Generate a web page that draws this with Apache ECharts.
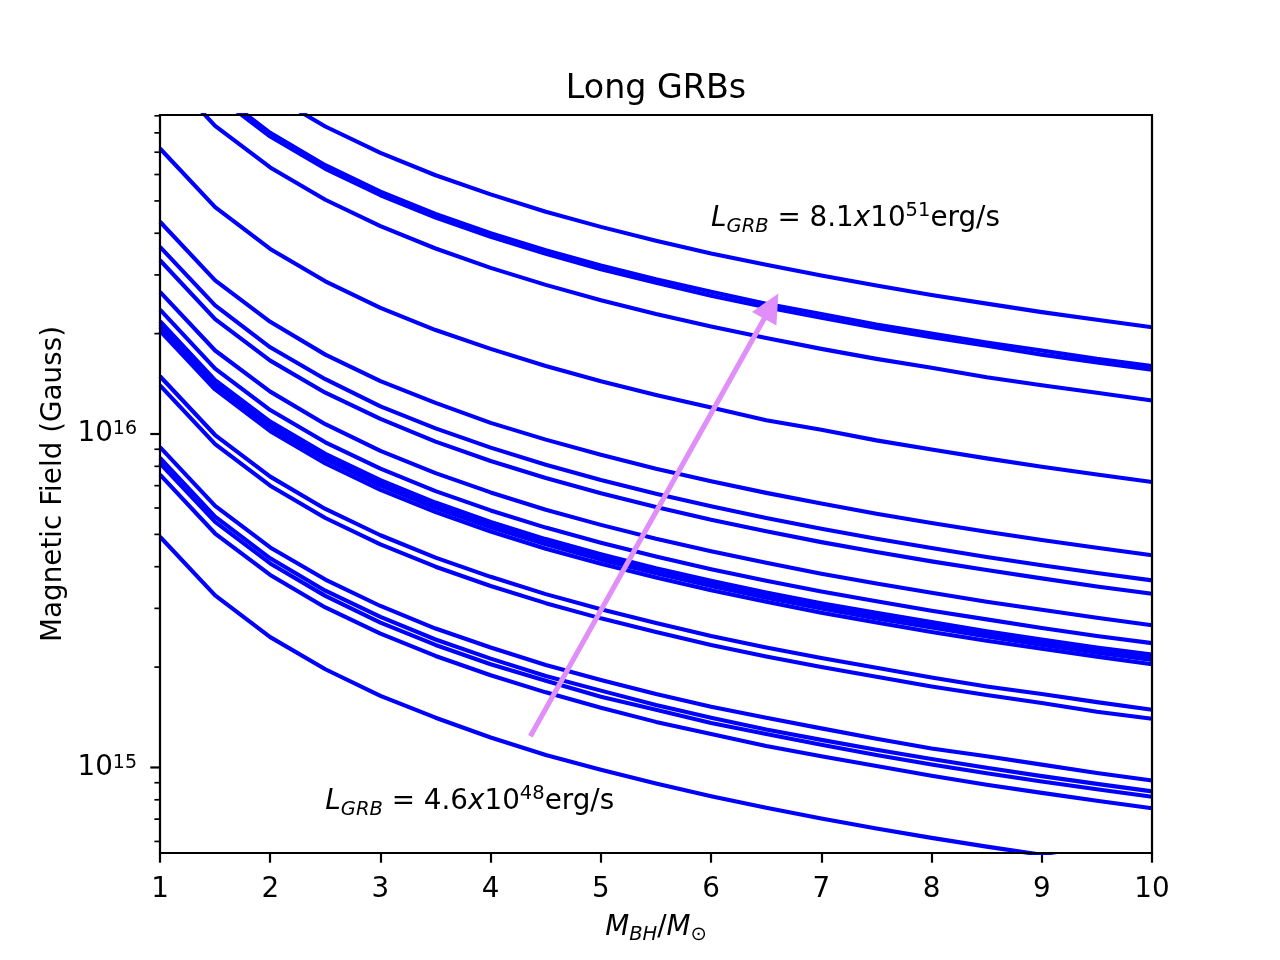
<!DOCTYPE html>
<html>
<head>
<meta charset="utf-8">
<title>Long GRBs</title>
<script src="https://cdn.jsdelivr.net/npm/echarts@6.0.0/dist/echarts.min.js"></script>
<style>
  html, body { margin: 0; padding: 0; background: #fff; }
  #chart { width: 1280px; height: 960px; }
</style>
</head>
<body>
<div id="chart"></div>
<script>
// black hole mass (solar masses)
var masses = [1, 1.5, 2, 2.5, 3, 3.5, 4, 4.5, 5, 5.5, 6, 6.5, 7, 7.5, 8, 8.5, 9, 9.5, 10];

// magnetic field in units of 1e15 G, one curve per GRB luminosity (top to bottom)
var line01 = [209, 139, 104.5, 83.6, 69.7, 59.7, 52.3, 46.4, 41.8, 38.0, 34.8, 32.2, 29.9, 27.9, 26.1, 24.6, 23.2, 22.0, 20.9];
var line02 = [160, 107, 80.0, 64.0, 53.3, 45.7, 40.0, 35.6, 32.0, 29.1, 26.7, 24.6, 22.9, 21.3, 20.0, 18.8, 17.8, 16.8, 16.0];
var line03 = [156, 104, 78.0, 62.4, 52.0, 44.6, 39.0, 34.7, 31.2, 28.4, 26.0, 24.0, 22.3, 20.8, 19.5, 18.4, 17.3, 16.4, 15.6];
var line04 = [126, 84.0, 63.0, 50.4, 42.0, 36.0, 31.5, 28.0, 25.2, 22.9, 21.0, 19.4, 18.0, 16.8, 15.8, 14.8, 14.0, 13.3, 12.6];
var line05 = [71.8, 47.9, 35.9, 28.7, 23.9, 20.5, 18.0, 16.0, 14.4, 13.1, 12.0, 11.0, 10.3, 9.57, 8.98, 8.45, 7.98, 7.56, 7.18];
var line06 = [43.3, 28.9, 21.7, 17.3, 14.4, 12.4, 10.8, 9.62, 8.66, 7.87, 7.22, 6.66, 6.19, 5.77, 5.41, 5.09, 4.81, 4.56, 4.33];
var line07 = [36.4, 24.3, 18.2, 14.6, 12.1, 10.4, 9.10, 8.09, 7.28, 6.62, 6.07, 5.60, 5.20, 4.85, 4.55, 4.28, 4.04, 3.83, 3.64];
var line08 = [33.2, 22.1, 16.6, 13.3, 11.1, 9.49, 8.30, 7.38, 6.64, 6.04, 5.53, 5.11, 4.74, 4.43, 4.15, 3.91, 3.69, 3.49, 3.32];
var line09 = [26.7, 17.8, 13.4, 10.7, 8.90, 7.63, 6.68, 5.93, 5.34, 4.85, 4.45, 4.11, 3.81, 3.56, 3.34, 3.14, 2.97, 2.81, 2.67];
var line10 = [23.6, 15.7, 11.8, 9.44, 7.87, 6.74, 5.90, 5.24, 4.72, 4.29, 3.93, 3.63, 3.37, 3.15, 2.95, 2.78, 2.62, 2.48, 2.36];
var line11 = [21.8, 14.5, 10.9, 8.72, 7.27, 6.23, 5.45, 4.84, 4.36, 3.96, 3.63, 3.35, 3.11, 2.91, 2.73, 2.56, 2.42, 2.29, 2.18];
var line12 = [21.4, 14.3, 10.7, 8.56, 7.13, 6.11, 5.35, 4.76, 4.28, 3.89, 3.57, 3.29, 3.06, 2.85, 2.68, 2.52, 2.38, 2.25, 2.14];
var line13 = [21.0, 14.0, 10.5, 8.40, 7.00, 6.00, 5.25, 4.67, 4.20, 3.82, 3.50, 3.23, 3.00, 2.80, 2.63, 2.47, 2.33, 2.21, 2.10];
var line14 = [20.4, 13.6, 10.2, 8.16, 6.80, 5.83, 5.10, 4.53, 4.08, 3.71, 3.40, 3.14, 2.91, 2.72, 2.55, 2.40, 2.27, 2.15, 2.04];
var line15 = [14.9, 9.93, 7.45, 5.96, 4.97, 4.26, 3.73, 3.31, 2.98, 2.71, 2.48, 2.29, 2.13, 1.99, 1.86, 1.75, 1.66, 1.57, 1.49];
var line16 = [14.0, 9.33, 7.00, 5.60, 4.67, 4.00, 3.50, 3.11, 2.80, 2.55, 2.33, 2.15, 2.00, 1.87, 1.75, 1.65, 1.56, 1.47, 1.40];
var line17 = [9.14, 6.09, 4.57, 3.66, 3.05, 2.61, 2.29, 2.03, 1.83, 1.66, 1.52, 1.41, 1.31, 1.22, 1.14, 1.08, 1.02, 0.962, 0.914];
var line18 = [8.48, 5.65, 4.24, 3.39, 2.83, 2.42, 2.12, 1.88, 1.70, 1.54, 1.41, 1.30, 1.21, 1.13, 1.06, 0.998, 0.942, 0.893, 0.848];
var line19 = [8.17, 5.45, 4.09, 3.27, 2.72, 2.33, 2.04, 1.82, 1.63, 1.49, 1.36, 1.26, 1.17, 1.09, 1.02, 0.961, 0.908, 0.860, 0.817];
var line20 = [7.55, 5.03, 3.78, 3.02, 2.52, 2.16, 1.89, 1.68, 1.51, 1.37, 1.26, 1.16, 1.08, 1.01, 0.944, 0.888, 0.839, 0.795, 0.755];
var line21 = [4.92, 3.28, 2.46, 1.97, 1.64, 1.41, 1.23, 1.09, 0.984, 0.895, 0.820, 0.757, 0.703, 0.656, 0.615, 0.579, 0.547, 0.518, 0.492];
var curves = [line01, line02, line03, line04, line05, line06, line07, line08, line09, line10,
              line11, line12, line13, line14, line15, line16, line17, line18, line19, line20, line21];
var unit = 1e15;

// y ticks (log axis, matplotlib style)
var yMajorTicks = [1e15, 1e16];
var yMinorTicks = [6e14, 7e14, 8e14, 9e14,
                   2e15, 3e15, 4e15, 5e15, 6e15, 7e15, 8e15, 9e15,
                   2e16, 3e16, 4e16, 5e16, 6e16, 7e16, 8e16, 9e16];

// annotations
var notes = [
    {x: 6.0, y: 4.2e16, mant: '8.1', exp: '51'},
    {x: 2.5, y: 7.5e14, mant: '4.6', exp: '48'}
];
var arrowFrom = [4.36, 1.24e15];
var arrowTo = [6.61, 2.64e16];

var FONT = 'DejaVu Sans';
var FS = 27.8;
var blue = '#0000ff';
var arrowColor = '#e08ff8';

var series = [];
for (var n = 0; n < curves.length; n++) {
    var pts = [];
    for (var i = 0; i < masses.length; i++) {
        pts.push([masses[i], curves[n][i] * unit]);
    }
    series.push({
        type: 'line',
        data: pts,
        symbol: 'none',
        showSymbol: false,
        silent: true,
        clip: true,
        z: 2,
        lineStyle: {color: blue, width: 4.1, join: 'round'},
        itemStyle: {color: blue}
    });
}

// y tick marks drawn outside the left edge
var tickData = [];
yMajorTicks.forEach(function (v) { tickData.push([1, v, 9.7, 2.2]); });
yMinorTicks.forEach(function (v) { tickData.push([1, v, 5.6, 1.7]); });
series.push({
    type: 'custom',
    data: tickData,
    clip: false,
    silent: true,
    z: 6,
    renderItem: function (params, api) {
        var p = api.coord([api.value(0), api.value(1)]);
        return {
            type: 'line',
            shape: {x1: p[0] - api.value(2), y1: p[1], x2: p[0], y2: p[1]},
            style: {stroke: '#000', lineWidth: api.value(3)}
        };
    }
});

// the arrow
series.push({
    type: 'custom',
    data: [[arrowFrom[0], arrowFrom[1], arrowTo[0], arrowTo[1]]],
    clip: false,
    silent: true,
    z: 4,
    renderItem: function (params, api) {
        var a = api.coord([api.value(0), api.value(1)]);
        var b = api.coord([api.value(2), api.value(3)]);
        var dx = b[0] - a[0], dy = b[1] - a[1];
        var len = Math.sqrt(dx * dx + dy * dy);
        var ux = dx / len, uy = dy / len, nx = -uy, ny = ux;
        var hw = 2.6, hl = 29, hh = 14;
        var bx = b[0] - ux * hl, by = b[1] - uy * hl;
        var poly = [
            [a[0] + nx * hw, a[1] + ny * hw],
            [bx + nx * hw, by + ny * hw],
            [bx + nx * hh, by + ny * hh],
            [b[0], b[1]],
            [bx - nx * hh, by - ny * hh],
            [bx - nx * hw, by - ny * hw],
            [a[0] - nx * hw, a[1] - ny * hw]
        ];
        return {type: 'polygon', shape: {points: poly}, style: {fill: arrowColor}};
    }
});

// the two luminosity labels
var noteRich = {
    n: {fontSize: FS, fontFamily: FONT, lineHeight: 48, fill: '#000'},
    i: {fontSize: FS, fontFamily: FONT, fontStyle: 'italic', lineHeight: 48, fill: '#000'},
    sb: {fontSize: 19.5, fontFamily: FONT, fontStyle: 'italic', padding: [0, 0, 6.5, 0], verticalAlign: 'bottom', fill: '#000'},
    sp: {fontSize: 19.5, fontFamily: FONT, padding: [6, 0, 0, 0], verticalAlign: 'top', fill: '#000'}
};
series.push({
    type: 'custom',
    data: notes.map(function (d, k) { return [d.x, d.y, k]; }),
    clip: false,
    silent: true,
    z: 5,
    renderItem: function (params, api) {
        var p = api.coord([api.value(0), api.value(1)]);
        var d = notes[api.value(2)];
        return {
            type: 'text',
            x: p[0],
            y: p[1] - 31,
            style: {
                text: '{i|L}{sb|GRB}{n| = ' + d.mant + '}{i|x}{n|10}{sp|' + d.exp + '}{n|erg/s}',
                rich: noteRich,
                fill: '#000',
                align: 'left',
                verticalAlign: 'top'
            }
        };
    }
});

// plot frame on top of the curves
series.push({
    type: 'custom',
    data: [[1, 1e16]],
    clip: false,
    silent: true,
    z: 7,
    renderItem: function (params, api) {
        var cs = params.coordSys;
        return {
            type: 'rect',
            shape: {x: cs.x, y: cs.y, width: cs.width, height: cs.height},
            style: {fill: 'none', stroke: '#000', lineWidth: 2.2}
        };
    }
});

var myChart = echarts.init(document.getElementById('chart'), null, {renderer: 'canvas'});
var option = {
    animation: false,
    backgroundColor: '#fff',
    grid: {left: 160, right: 128, top: 115, bottom: 107, containLabel: false, outerBoundsMode: 'none'},
    graphic: [{
        type: 'text',
        x: 656,
        y: 89,
        style: {text: 'Long GRBs', fontSize: 33.3, fontFamily: FONT, fill: '#000', align: 'center', verticalAlign: 'middle'}
    }],
    xAxis: {
        type: 'value',
        min: 1,
        max: 10,
        interval: 1,
        splitLine: {show: false},
        axisLine: {show: true, lineStyle: {color: '#000', width: 2.2}},
        axisTick: {show: true, inside: false, length: 9.7, lineStyle: {color: '#000', width: 2.2}},
        axisLabel: {margin: 23, fontSize: FS, fontFamily: FONT, color: '#000'},
        name: '{i|M}{sb|BH}{n|/}{i|M}{so|⊙}',
        nameLocation: 'middle',
        nameGap: 58,
        nameMoveOverlap: false,
        nameTextStyle: {
            rich: {
                n: {fontSize: FS, fontFamily: FONT, lineHeight: 34, color: '#000'},
                i: {fontSize: FS, fontFamily: FONT, fontStyle: 'italic', lineHeight: 34, color: '#000'},
                sb: {fontSize: 19.5, fontFamily: FONT, fontStyle: 'italic', lineHeight: 24, verticalAlign: 'bottom', color: '#000'},
                so: {fontSize: 19.5, fontFamily: FONT, lineHeight: 24, verticalAlign: 'bottom', color: '#000'}
            }
        }
    },
    yAxis: {
        type: 'log',
        logBase: 10,
        min: 5.54e14,
        max: 9.05e16,
        splitLine: {show: false},
        axisLine: {show: false},
        axisTick: {show: false},
        minorTick: {show: false},
        axisLabel: {
            margin: 23,
            interval: 0,
            hideOverlap: false,
            formatter: function (v) {
                var e = Math.log10(v), r = Math.round(e);
                if (Math.abs(e - r) > 1e-6) return '';
                return '{b|10}{s|' + r + '}';
            },
            rich: {
                b: {fontSize: FS, fontFamily: FONT, lineHeight: 28, color: '#000'},
                s: {fontSize: 19, fontFamily: FONT, lineHeight: 19, verticalAlign: 'top', color: '#000'}
            }
        },
        name: 'Magnetic Field (Gauss)',
        nameLocation: 'middle',
        nameGap: 92,
        nameMoveOverlap: false,
        nameTextStyle: {fontSize: FS, fontFamily: FONT, color: '#000'}
    },
    series: series
};

myChart.setOption(option);
</script>
</body>
</html>
